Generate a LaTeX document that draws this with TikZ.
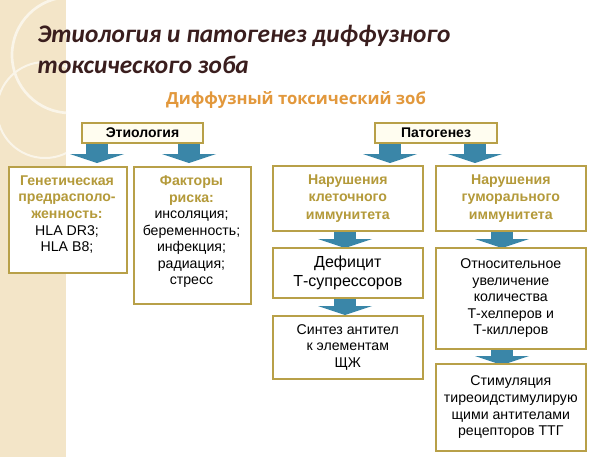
\documentclass[tikz,border=0pt]{standalone}
\usepackage{fontspec}
\setmainfont{Liberation Sans}
\newfontfamily\titlefont{Carlito}
\newfontfamily\subfont{Open Sans}
\definecolor{gold}{HTML}{B49A3A}
\definecolor{boxline}{HTML}{B8A048}
\definecolor{arrowblue}{HTML}{3A86A8}
\definecolor{beige}{HTML}{F3E5C8}
\definecolor{titlec}{HTML}{3A1E1E}
\definecolor{subc}{HTML}{E2983C}
\definecolor{headfill}{HTML}{FFFDF0}
\tikzset{
  x=0.75pt,y=-0.75pt,
  boxn/.style={draw=boxline,line width=1.2pt,fill=white,align=center,font=\fontsize{10.6}{12.4}\selectfont,inner sep=0pt},
  headbox/.style={draw=boxline,line width=1.2pt,fill=headfill,font=\bfseries\fontsize{10.5}{12}\selectfont,inner sep=0pt},
}
\newcommand{\blarrow}[2]{%
  \fill[arrowblue] (#1-11,#2) rectangle (#1+11,#2+10);
  \fill[arrowblue] (#1-27,#2+10) -- (#1+27,#2+10) -- (#1,#2+19) -- cycle;}
\begin{document}
\begin{tikzpicture}
\useasboundingbox (0,0) rectangle (610,457);
\fill[white] (0,0) rectangle (610,457);
\fill[beige] (0,0) rectangle (66,457);
\begin{scope}
\clip (0,0) rectangle (66,457);
\draw[white!60!beige,line width=2pt] (70,55) circle (58);
\draw[white!60!beige,line width=1.5pt] (45,110) circle (48);
\end{scope}
\node[anchor=west,text=titlec,font=\titlefont\bfseries\itshape\fontsize{19}{22}\selectfont] (t1) at (33,36) {Этиология и патогенез диффузного};
\node[anchor=west,text=titlec,font=\titlefont\bfseries\itshape\fontsize{19}{22}\selectfont] (t2) at (33,65) {токсического зоба};
\node[text=subc,font=\subfont\bfseries\fontsize{12.5}{14}\selectfont] (sub) at (296,100) {Диффузный токсический зоб};
% heads
\node[headbox,minimum width=121*0.75pt,minimum height=20*0.75pt] (et) at (142.5,133) {Этиология};
\node[headbox,minimum width=122*0.75pt,minimum height=20*0.75pt] (pat) at (436,133) {Патогенез};
% arrows
\blarrow{97}{144}
\blarrow{189}{144}
\blarrow{390}{144}
\blarrow{475}{144}
\blarrow{345}{229}
\blarrow{345}{296}
\blarrow{502}{346}
\blarrow{502}{229}
% boxes
\node[boxn,minimum width=118*0.75pt,minimum height=106*0.75pt,anchor=north west] (gen) at (8,166) {};
\node[align=center,font=\fontsize{10.6}{12.4}\selectfont,anchor=north] at (67,171) {\textcolor{gold}{\bfseries Генетическая}\\ \textcolor{gold}{\bfseries предрасполо-}\\ \textcolor{gold}{\bfseries женность:}\\ HLA DR3;\\ HLA B8;};
\node[boxn,minimum width=117*0.75pt,minimum height=137*0.75pt,anchor=north west] (fak) at (133,166) {};
\node[align=center,font=\fontsize{10.6}{12.4}\selectfont,anchor=north] at (191.5,171) {\textcolor{gold}{\bfseries Факторы}\\ \textcolor{gold}{\bfseries риска:}\\ инсоляция;\\ беременность;\\ инфекция;\\ радиация;\\ стресс};
\node[boxn,minimum width=150*0.75pt,minimum height=65*0.75pt,anchor=north west,font=\bfseries\fontsize{10.6}{13}\selectfont,text=gold] (kl) at (272,165) {Нарушения\\ клеточного\\ иммунитета};
\node[boxn,minimum width=150*0.75pt,minimum height=65*0.75pt,anchor=north west,font=\bfseries\fontsize{10.6}{13}\selectfont,text=gold] (gum) at (435,165) {Нарушения\\ гуморального\\ иммунитета};
\node[boxn,minimum width=150*0.75pt,minimum height=50*0.75pt,anchor=north west,font=\fontsize{12}{14}\selectfont] (def) at (272,247) {Дефицит\\ Т-супрессоров};
\node[boxn,minimum width=150*0.75pt,minimum height=63*0.75pt,anchor=north west] (sin) at (272,315) {Синтез антител\\ к элементам\\ ЩЖ};
\node[boxn,minimum width=150*0.75pt,minimum height=101*0.75pt,anchor=north west] (otn) at (435,247) {Относительное\\ увеличение\\ количества\\ Т-хелперов и\\ Т-киллеров};
\node[boxn,minimum width=150*0.75pt,minimum height=87*0.75pt,anchor=north west] (stim) at (435,363) {Стимуляция\\ тиреоидстимулирую\\ щими антителами\\ рецепторов ТТГ};
\end{tikzpicture}
\end{document}
